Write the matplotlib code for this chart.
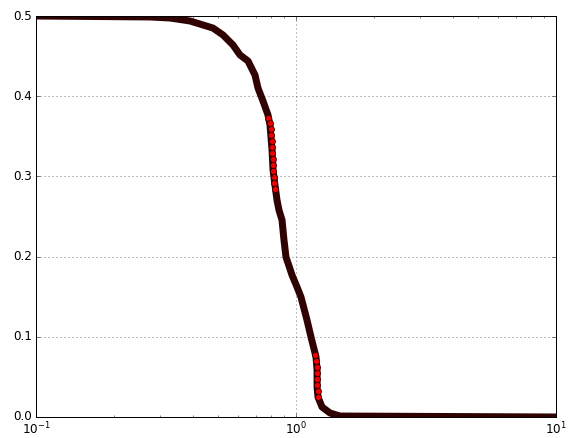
import matplotlib
matplotlib.use('Agg')
import matplotlib.pyplot as plt

plt.style.use('classic')

# centre line of the dense band of samples
curve_x = [0.1, 0.2745, 0.3275, 0.391, 0.4387, 0.4793, 0.524, 0.5725, 0.609,
           0.6537, 0.6954, 0.7141, 0.7465, 0.7803, 0.7943, 0.8087, 0.816,
           0.830, 0.845, 0.860, 0.8835, 0.899, 0.915, 0.940, 0.965, 1.009,
           1.045, 1.102, 1.142, 1.194, 1.205, 1.205, 1.215, 1.259, 1.351,
           1.476, 10.0]
curve_y = [0.5, 0.4988, 0.4975, 0.4938, 0.4888, 0.485, 0.4763, 0.4638, 0.4514,
           0.4439, 0.4264, 0.4102, 0.394, 0.3766, 0.3641, 0.333, 0.308,
           0.2893, 0.2706, 0.258, 0.2456, 0.2207, 0.1995, 0.1883, 0.1771,
           0.1621, 0.1496, 0.121, 0.0998, 0.0748, 0.0586, 0.0374, 0.0249,
           0.0125, 0.005, 0.0012, 0.0]

# individual samples that stand out in the two steep drops
dots_x = [0.7838, 0.7909, 0.7979, 0.8014, 0.805, 0.8087, 0.8087, 0.8123,
          0.8123, 0.816, 0.8196, 0.8233, 0.8305,
          1.1885, 1.194, 1.1995, 1.205, 1.205, 1.205, 1.2105, 1.215]
dots_y = [0.3728, 0.3666, 0.3591, 0.3516, 0.3441, 0.3367, 0.3292, 0.3217,
          0.3142, 0.3067, 0.2993, 0.2918, 0.2843,
          0.0773, 0.0698, 0.0623, 0.0549, 0.0474, 0.0399, 0.0324, 0.0249]

fig = plt.figure(figsize=(568 / 72, 438 / 72), dpi=72)
ax = fig.add_axes([36 / 568, 21 / 438, 520 / 568, 401 / 438])

ax.plot(curve_x, curve_y, '-', color='#300303', lw=7,
        solid_capstyle='round', solid_joinstyle='round')
ax.plot(dots_x, dots_y, 'o', color='#ee0000', markeredgecolor='#3a0000',
        markeredgewidth=0.8, markersize=6)

ax.set_xscale('log')
ax.set_xlim(0.1, 10)
ax.set_ylim(0, 0.5)
ax.set_yticks([0.0, 0.1, 0.2, 0.3, 0.4, 0.5])
ax.grid(True, which='major')

fig.savefig('out.png', dpi=72)
